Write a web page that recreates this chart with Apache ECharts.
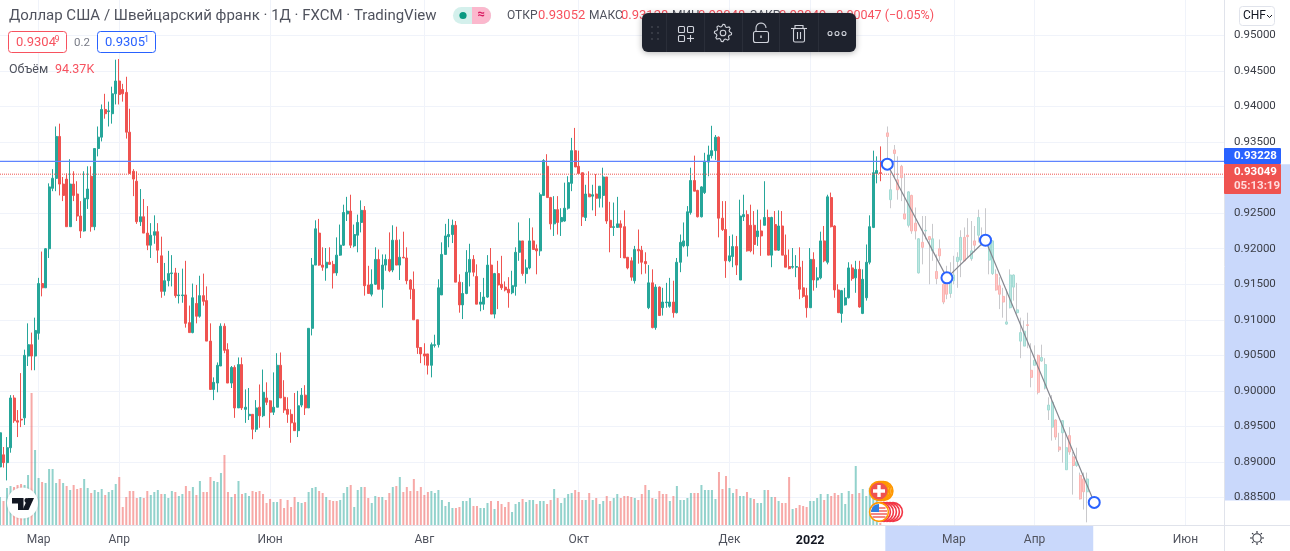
<!DOCTYPE html>
<html>
<head>
<meta charset="utf-8">
<title>USD/CHF</title>
<script src="https://cdn.jsdelivr.net/npm/echarts@6/dist/echarts.min.js"></script>
<style>
html,body{margin:0;padding:0;background:#fff}
#chart{width:1290px;height:551px}
</style>
</head>
<body>
<div id="chart"></div>
<script>
// Daily USD/CHF candles as [open, close, low, high] in pips (1 pip = 0.0001).
const liveCandles = [
[8893,8941,8889,8945],[8910,8899,8892,8921],[8899,8920,8874,8935],[8920,8990,8913,8994],[8990,8958,8955,8994],
[8958,8956,8935,8973],[8960,8959,8949,9025],[8962,9050,8952,9058],[9049,9065,9035,9095],[9065,9049,9029,9082],
[9049,9085,9029,9103],[9081,9151,9072,9159],[9151,9145,9133,9196],[9145,9200,9145,9201],[9200,9287,9187,9292],
[9285,9299,9281,9312],[9299,9358,9281,9372],[9358,9291,9275,9376],[9291,9275,9267,9301],[9298,9231,9231,9306],
[9231,9291,9231,9326],[9291,9275,9267,9309],[9277,9246,9239,9295],[9246,9225,9215,9267],[9225,9271,9224,9309],
[9270,9284,9256,9316],[9302,9231,9224,9316],[9231,9341,9226,9341],[9341,9357,9330,9372],[9357,9396,9351,9403],
[9396,9390,9383,9418],[9393,9394,9372,9407],[9390,9418,9376,9428],[9418,9436,9403,9466],[9436,9417,9403,9467],
[9424,9418,9407,9432],[9420,9364,9355,9442],[9364,9306,9306,9397],[9309,9298,9274,9312],[9295,9238,9235,9309],
[9238,9245,9232,9284],[9245,9222,9222,9270],[9222,9205,9198,9260],[9205,9219,9187,9236],[9219,9224,9207,9247],
[9224,9198,9180,9236],[9190,9140,9131,9217],[9140,9155,9134,9180],[9155,9165,9147,9197],[9165,9166,9147,9191],
[9166,9134,9131,9173],[9134,9135,9123,9166],[9134,9135,9124,9172],[9135,9095,9089,9183],[9096,9082,9082,9120],
[9082,9131,9081,9151],[9123,9105,9095,9149],[9105,9134,9103,9162],[9134,9126,9120,9165],[9127,9070,9070,9147],
[9070,9002,9002,9095],[9002,9012,8987,9019],[9011,9036,8998,9040],[9035,9091,9035,9095],[9091,9057,9053,9095],
[9058,9011,9011,9067],[9011,9033,9004,9035],[9033,8976,8962,9036],[8976,9037,8976,9047],[9037,8976,8973,9047],
[8974,8977,8955,9002],[8965,8967,8959,9004],[8967,8946,8932,8967],[8946,8976,8942,8987],[8977,8965,8948,9009],
[8965,8998,8963,9030],[8990,8984,8980,9012],[8986,8970,8948,8987],[8970,8977,8966,9026],[8977,9036,8977,9053],
[9036,8990,8990,9054],[8991,8973,8969,9015],[8974,8967,8955,8991],[8967,8955,8927,8974],[8955,8944,8944,8997],
[8944,8979,8935,9000],[8980,8994,8977,9004],[8994,8976,8966,9008],[8976,9088,8976,9088],[9088,9177,9078,9187],
[9177,9228,9177,9240],[9222,9177,9176,9242],[9177,9174,9169,9202],[9173,9181,9155,9201],[9181,9178,9178,9202],
[9178,9166,9144,9183],[9166,9191,9162,9216],[9191,9205,9190,9234],[9205,9251,9204,9262],[9249,9253,9239,9273],
[9253,9205,9201,9276],[9204,9220,9202,9234],[9219,9237,9195,9248],[9237,9254,9223,9268],[9254,9148,9134,9260],
[9149,9137,9137,9176],[9136,9150,9133,9171],[9150,9185,9149,9202],[9185,9143,9143,9199],[9143,9177,9117,9192],
[9177,9185,9169,9192],[9185,9169,9167,9223],[9170,9212,9167,9233],[9212,9177,9177,9231],[9177,9188,9156,9213],
[9188,9187,9187,9224],[9187,9155,9150,9202],[9156,9143,9129,9157],[9143,9100,9100,9168],[9100,9061,9052,9100],
[9061,9052,9039,9061],[9052,9049,9036,9067],[9052,9036,9023,9052],[9036,9065,9019,9068],[9064,9065,9061,9079],
[9065,9145,9061,9157],[9135,9192,9135,9209],[9192,9218,9192,9235],[9217,9220,9202,9242],[9220,9233,9208,9241],
[9233,9153,9153,9239],[9153,9121,9110,9164],[9121,9137,9101,9153],[9137,9167,9136,9198],[9167,9185,9147,9207],
[9185,9167,9161,9191],[9161,9122,9122,9178],[9122,9125,9112,9139],[9122,9132,9114,9159],[9132,9177,9131,9191],
[9177,9108,9108,9201],[9108,9165,9102,9166],[9165,9149,9115,9183],[9150,9145,9142,9190],[9146,9142,9140,9154],
[9143,9138,9117,9160],[9138,9148,9136,9169],[9147,9195,9134,9202],[9195,9211,9183,9237],[9211,9165,9162,9211],
[9165,9173,9151,9185],[9173,9211,9171,9243],[9211,9199,9199,9230],[9200,9197,9164,9206],[9197,9276,9190,9279],
[9275,9324,9275,9326],[9316,9272,9272,9333],[9272,9235,9227,9273],[9235,9255,9218,9274],[9255,9237,9220,9274],
[9238,9244,9218,9257],[9239,9257,9238,9293],[9257,9293,9255,9302],[9292,9338,9281,9356],[9338,9315,9315,9370],
[9316,9306,9306,9338],[9307,9245,9232,9307],[9244,9277,9239,9290],[9277,9273,9273,9309],[9274,9276,9254,9290],
[9277,9271,9246,9305],[9271,9288,9258,9288],[9275,9301,9258,9314],[9301,9239,9235,9301],[9240,9230,9195,9266],
[9230,9231,9218,9265],[9230,9235,9230,9273],[9235,9230,9187,9240],[9231,9187,9187,9254],[9188,9173,9171,9188],
[9183,9160,9155,9188],[9155,9199,9151,9204],[9199,9197,9179,9227],[9198,9181,9164,9204],[9182,9179,9165,9195],
[9117,9152,9115,9177],[9152,9089,9088,9171],[9089,9146,9086,9150],[9146,9106,9106,9147],[9117,9125,9106,9145],
[9124,9125,9117,9152],[9119,9125,9117,9159],[9125,9110,9103,9155],[9110,9181,9109,9187],[9181,9209,9167,9220],
[9204,9211,9202,9237],[9204,9252,9189,9260],[9251,9296,9248,9314],[9296,9281,9281,9331],[9282,9245,9244,9283],
[9245,9287,9244,9288],[9279,9323,9277,9335],[9322,9332,9302,9345],[9331,9338,9327,9373],[9338,9357,9325,9360],
[9357,9243,9216,9358],[9243,9227,9225,9267],[9227,9183,9159,9267],[9183,9190,9181,9218],[9189,9203,9174,9220],
[9203,9177,9163,9218],[9156,9246,9156,9269],[9245,9248,9239,9276],[9248,9197,9196,9254],[9233,9197,9195,9262],
[9233,9206,9192,9253],[9217,9225,9204,9255],[9225,9218,9190,9241],[9233,9244,9233,9295],[9244,9191,9191,9255],
[9191,9244,9174,9245],[9234,9198,9198,9253],[9198,9232,9197,9254],[9232,9191,9191,9253],[9191,9174,9174,9220],
[9175,9172,9171,9199],[9174,9175,9172,9201],[9174,9175,9160,9191],[9174,9143,9129,9202],[9145,9133,9131,9183],
[9134,9117,9103,9145],[9117,9185,9117,9201],[9185,9156,9141,9195],[9156,9159,9145,9174],[9159,9211,9157,9224],
[9211,9183,9181,9232],[9181,9273,9178,9276],[9272,9231,9230,9279],[9232,9142,9131,9233],[9142,9110,9110,9150],
[9109,9141,9096,9142],[9121,9131,9120,9145],[9131,9173,9130,9181],[9173,9158,9155,9178],[9159,9171,9138,9183],
[9171,9118,9117,9183],[9109,9157,9108,9171],[9131,9181,9127,9206],[9181,9231,9178,9247],[9230,9307,9229,9338],
[9306,9310,9292,9330],[9307,9306,9295,9344]
];
// The copied bar pattern laid out ahead of the last candle, same layout as above.
const projectedStart = 253;
const projectedCandles = [
[9363,9358,9318,9372],[9269,9283,9257,9309],[9339,9334,9300,9346],[9297,9283,9269,9330],[9316,9300,9267,9318],
[9249,9242,9241,9304],[9233,9280,9230,9281],[9275,9225,9221,9276],[9236,9225,9213,9258],[9166,9214,9165,9215],
[9209,9202,9178,9246],[9225,9226,9213,9246],[9217,9213,9150,9218],[9197,9214,9183,9235],[9168,9158,9150,9192],
[9200,9190,9183,9213],[9150,9125,9122,9157],[9164,9136,9129,9176],[9137,9162,9131,9181],[9155,9163,9150,9190],
[9182,9188,9145,9195],[9184,9216,9160,9226],[9216,9183,9183,9230],[9219,9217,9188,9243],[9186,9197,9183,9239],
[9211,9205,9195,9232],[9219,9244,9209,9255],[9206,9213,9204,9230],[9220,9215,9210,9257],[9184,9206,9164,9211],
[9165,9211,9163,9212],[9164,9142,9141,9171],[9148,9136,9115,9160],[9133,9125,9103,9145],[9094,9097,9093,9143],
[9117,9163,9116,9171],[9146,9163,9127,9164],[9110,9114,9108,9152],[9070,9082,9046,9103],[9063,9084,9063,9099],
[9093,9092,9060,9110],[9029,9019,9005,9067],[9036,9043,9036,9064],[9050,8998,8995,9051],[9042,9047,9041,9065],
[9004,9037,9002,9046],[8973,8980,8959,8991],[8949,8984,8930,8994],[8959,8935,8931,8960],[8921,8917,8914,8941],
[8941,8958,8899,8959],[8889,8920,8889,8941],[8937,8914,8910,8949],[8907,8895,8854,8914],[8895,8900,8893,8920],
[8881,8848,8847,8885],[8876,8858,8833,8885],[8858,8876,8815,8885]
];
// Daily volume in thousands, and whether each bar is drawn as an up (G) or down (R) day.
const volumes = [
84,72,111,117,114,120,123,120,150,396,225,141,129,126,168,168,126,138,126,117,105,120,108,111,138,111,96,105,99,108,90,99,105,123,144,
54,84,102,102,81,84,81,102,90,99,105,93,93,81,102,99,87,93,117,102,114,90,132,99,99,144,132,129,156,210,
99,84,93,132,93,96,87,102,99,102,93,66,78,69,69,78,51,75,54,84,69,66,69,99,111,114,102,96,84,75,
72,72,75,96,114,120,54,105,114,114,81,66,87,84,84,75,96,114,117,144,99,114,102,138,102,114,90,99,102,96,105,75,57,69,
51,51,54,72,72,81,57,57,51,51,66,72,48,72,63,54,69,39,63,69,78,69,75,75,63,72,72,63,75,108,
81,66,81,93,96,105,99,75,75,96,75,81,63,72,87,72,81,93,81,87,87,84,81,75,93,120,105,81,78,102,
93,93,72,87,117,75,75,81,96,96,96,120,105,105,105,78,159,108,147,111,96,108,87,87,99,81,78,66,66,105,
105,84,84,72,66,66,144,48,51,60,57,54,72,72,81,93,75,93,87,96,90,96,63,102,93,177,96,108,87,111,87,75,6
];
const volumeSides =
"GRGGRRRGGRGGRGGGGRGRGRRRGGRGGGRGGGR" +
"RRRRRGRRGGGRGGGRGGRRGRGRRRGGGRRGRGRGGRRRRRRGGRRRRRGGRGGGRRGRRRGGGRGGGRRGGRGRRGRGRRRRRRRRGGGGGG" +
"GRRGGGRRGGGRGRRRRGGGRGGGRGGRRGRGGGGRRRGRGRGGRRGGRRRRGRRRGRGRRRGRGGGGGRRGGGGGRRRGGRGGRGRGGGRGRGRRRGRRRRGGGGRGRRRGGGRGRGGGGGR";

const categoryCount = 350;
const monthTicks = {11:'Мар',34:'Апр',77:'Июн',121:'Авг',165:'Окт',208:'Дек',231:'2022',272:'Мар',295:'Апр',338:'Июн'};
const categories = Array.from({length:categoryCount},(_, i)=>monthTicks[i]||'');

// Three-segment price path: index along the time axis, price.
const pathPoints = [[253,0.9319],[270,0.9159],[281,0.9212],[312,0.8843]];
const levelLine = 0.93228;
const lastPrice = 0.93049;

const UP='#26a69a', DOWN='#ef5350';
const pale={up:'#bfe6e1',upLine:'#a3dcd5',down:'#fcc9c8',downLine:'#fbb4b2'};
const GREY='#50535e';

const toPrice = p => +(p/10000).toFixed(5);
const liveData = liveCandles.map((c,i)=>[i,toPrice(c[0]),toPrice(c[1]),toPrice(c[2]),toPrice(c[3])]);
const projWick = projectedCandles.map((c,i)=>[projectedStart+i,toPrice(c[0]),toPrice(c[1]),toPrice(c[2]),toPrice(c[3])]);
const projBody = projectedCandles.map((c,i)=>[projectedStart+i,toPrice(c[0]),toPrice(c[1]),toPrice(Math.min(c[0],c[1])),toPrice(Math.max(c[0],c[1]))]);
const volumeData = volumes.map((v,i)=>({value:[i,v],itemStyle:{color:volumeSides[i]==='G'?'rgba(38,166,154,.5)':'rgba(239,83,80,.5)'}}));
const fullWidth = v => [[0,v],[categoryCount-1,v]];

const AXIS_LINE='#e0e3eb', GRID_LINE='#f0f3fa';
const isTick = i => monthTicks[i]!==undefined;

// --- overlay helpers -------------------------------------------------------
const txt=(x,y,text,fill,font,extra,z)=>({type:'text',z:z||100,silent:true,style:Object.assign({x,y,text,fill,font,textVerticalAlign:'middle'},extra||{})});
const rr=(x,y,w,h,r,style,z)=>({type:'rect',z:z||100,silent:true,shape:{x,y,width:w,height:h,r},style});
const dot=(cx,cy,r,style,z)=>({type:'circle',z:z||100,silent:true,shape:{cx,cy,r},style});
const poly=(points,style,z)=>({type:'polygon',z:z||102,silent:true,shape:{points},style});
const pline=(points,style,z)=>({type:'polyline',z:z||102,silent:true,shape:{points},style});
const ln=(x1,y1,x2,y2,stroke,w,z)=>({type:'line',z:z||100,silent:true,shape:{x1,y1,x2,y2},style:{stroke,lineWidth:w||1}});
// Points along a circular arc, angles in degrees.
const arcPts=(cx,cy,r,from,to,n)=>Array.from({length:n+1},(_, k)=>{
  const a=(from+(to-from)*k/n)*Math.PI/180;
  return [cx+r*Math.cos(a),cy+r*Math.sin(a)];
});

const UI='13px Roboto', CAP='12px Roboto', SMALL='12.5px Roboto';
const overlay=[];

// header line
overlay.push(txt(9,16,'Доллар США / Швейцарский франк · 1Д · FXCM · TradingView','#50535e','15px Roboto'));
overlay.push(rr(453,7,38,17,8.5,{fill:'#d4f0ec'}));
overlay.push(poly([[472,7],...arcPts(482.5,15.5,8.5,-90,90,12),[472,24]],{fill:'#fbb8cd'},101));
overlay.push(dot(463,15.5,3.6,{fill:'#089981'},102));
overlay.push(txt(481,15,'≈','#d81b60','bold 13px Roboto',{textAlign:'center'},103));
overlay.push(txt(507,16,'ОТКР',GREY,CAP));
overlay.push(txt(538,16,'0.93052','#f7525f',UI));
overlay.push(txt(589,16,'МАКС',GREY,CAP));
overlay.push(txt(621,16,'0.93128','#f7525f',UI));
overlay.push(txt(672,16,'МИН',GREY,CAP));
overlay.push(txt(698,16,'0.93048','#f7525f',UI));
overlay.push(txt(750,16,'ЗАКР',GREY,CAP));
overlay.push(txt(779,16,'0.93049','#f7525f',UI));
overlay.push(txt(829,16,'−0.00047 (−0.05%)','#f7525f',SMALL));

// bid / ask boxes and the volume caption
overlay.push(rr(8.5,31.5,58,21,3,{fill:'#fff',stroke:'#f7525f',lineWidth:1}));
overlay.push(txt(16,43,'0.9304','#f7525f',UI,null,101));
overlay.push(txt(54.5,40,'9','#f7525f','9px Roboto',null,101));
overlay.push(txt(74,43,'0.2','#787b86','11.5px Roboto'));
overlay.push(rr(97.5,31.5,58,21,3,{fill:'#fff',stroke:'#2962ff',lineWidth:1}));
overlay.push(txt(105,43,'0.9305','#2962ff',UI,null,101));
overlay.push(txt(144,40,'1','#2962ff','9px Roboto',null,101));
overlay.push(txt(9,70,'Объём',GREY,SMALL));
overlay.push(txt(55,70,'94.37K','#f7525f',SMALL));

// floating drawing toolbar
overlay.push({type:'rect',z:110,silent:true,shape:{x:642,y:13,width:214,height:39,r:6},style:{fill:'#1e222d',shadowBlur:6,shadowColor:'rgba(0,0,0,.3)',shadowOffsetY:1}});
[666,704,742,779,818].forEach(x=>overlay.push(ln(x+.5,13,x+.5,52,'#2a2e39',1,111)));
[651,657].forEach(x=>[27,33,39].forEach(y=>overlay.push(dot(x+1,y,.9,{fill:'#434651'},112))));
const ICON={stroke:'#d1d4dc',lineWidth:1.1,fill:'none'};
[[678.5,26.5],[687.5,26.5],[678.5,35.5]].forEach(p=>overlay.push(rr(p[0],p[1],6,6,1,ICON,112)));
overlay.push(ln(687,38.5,694,38.5,'#d1d4dc',1.1,112));
overlay.push(ln(690.5,35,690.5,42,'#d1d4dc',1.1,112));
// gear outline built from eight teeth around its hub
(function(){
  const cx=723,cy=33,n=8,pts=[];
  for(let k=0;k<n*4;k++){
    const a=k*Math.PI*2/(n*4);
    const r=(k%4===0||k%4===1)?8.6:6.6;
    pts.push([cx+r*Math.cos(a),cy+r*Math.sin(a)]);
  }
  overlay.push(poly(pts,ICON,112));
  overlay.push(dot(cx,cy,2.8,ICON,112));
})();
overlay.push(rr(753.5,31.5,15,11,2,ICON,112));
overlay.push(pline([[756,31],...arcPts(761,28,5,180,360,10)],ICON,112));
overlay.push(ln(761,35.5,761,38,'#d1d4dc',1.4,112));
overlay.push(ln(791,28.5,807,28.5,'#d1d4dc',1.1,112));
overlay.push(pline([[795,28],[795,25.5],[803,25.5],[803,28]],ICON,112));
overlay.push(rr(793.5,28.5,11,13.5,1.5,ICON,112));
overlay.push(ln(797.5,32,797.5,39,'#d1d4dc',1.1,112));
overlay.push(ln(800.5,32,800.5,39,'#d1d4dc',1.1,112));
[830,837,844].forEach(x=>overlay.push(dot(x,33.5,2,ICON,112)));

// currency switch, price tags and clock
overlay.push(rr(1239.5,6.5,35,19,3,{fill:'#fff',stroke:'#e0e3eb',lineWidth:1},105));
overlay.push(txt(1243,16,'CHF','#131722','12px Roboto',null,106));
overlay.push(pline([[1267,15],[1269.5,17.5],[1272,15]],{stroke:'#131722',lineWidth:1,fill:'none'},106));
overlay.push(rr(1224,148,57,16,1,{fill:'#2962ff'},105));
overlay.push(txt(1234,156.5,'0.93228','#fff','bold 11.5px Roboto',null,106));
overlay.push(rr(1224,164,57,30,1,{fill:'#ef5350'},105));
overlay.push(txt(1234,172.5,'0.93049','#fff','bold 11.5px Roboto',null,106));
overlay.push(txt(1234,186,'05:13:19','#ffdcdc','bold 11.5px Roboto',null,106));

// axis frame pieces below the price grid, and the settings glyph
overlay.push(ln(1224.5,525,1224.5,551,AXIS_LINE,1,50));
overlay.push(ln(1224,525.5,1290,525.5,AXIS_LINE,1,50));
overlay.push(dot(1257,538,4.2,{stroke:'#2a2e39',lineWidth:1.1,fill:'none'},60));
[0,45,90,135,180,225,270,315].forEach(a=>{
  const r=a*Math.PI/180;
  overlay.push(ln(1257+5*Math.cos(r),538+5*Math.sin(r),1257+7*Math.cos(r),538+7*Math.sin(r),'#2a2e39',1.1,60));
});

// corner logo
overlay.push(dot(22.5,503,15.5,{fill:'#fff',shadowBlur:3,shadowColor:'rgba(0,0,0,.15)'},90));
overlay.push(poly([[12,498],[23.5,498],[23.5,510],[18,510],[18,503.5],[12,503.5]],{fill:'#131722'},91));
overlay.push(dot(26.8,500.5,2.4,{fill:'#131722'},91));
overlay.push(poly([[28,498],[34,498],[28.5,510],[22.5,510]],{fill:'#131722'},91));

// event markers stacked on the time axis
[4.5,3,1.5,0].forEach(o=>{
  overlay.push(dot(879+o,491,9.4,{fill:o?'#fff':'#ef5350',stroke:'#ff9800',lineWidth:1.6},80));
});
overlay.push(poly([[877.3,485],[880.7,485],[880.7,489.3],[885,489.3],[885,492.7],[880.7,492.7],[880.7,497],[877.3,497],[877.3,492.7],[873,492.7],[873,489.3],[877.3,489.3]],{fill:'#fff'},81));
[14,11,8,5,2].forEach(o=>{
  overlay.push(dot(879+o,512,9.4,{fill:'#fff',stroke:'#f23645',lineWidth:1.6},80));
});
overlay.push(dot(879,512,9.4,{fill:'#fff',stroke:'#ff9800',lineWidth:1.6},81));
[[508,6.5],[511,8],[514,8],[517,6.5]].forEach(s=>overlay.push(ln(879-s[1],s[0],879+s[1],s[0],'#ef5350',1.4,82)));
overlay.push(poly([[879,512],[871,512],...arcPts(879,512,8,180,270,8)],{fill:'#2f7fe0'},83));

const chart=echarts.init(document.getElementById('chart'),null,{renderer:'canvas'});
chart.setOption({
  animation:false,
  backgroundColor:'#fff',
  textStyle:{fontFamily:'Roboto'},
  grid:[
    {left:0,width:1224,top:-2.7,height:535.7,containLabel:false},
    {left:0,width:1224,top:0,height:525,containLabel:false}
  ],
  xAxis:[
    {type:'category',gridIndex:0,data:categories,boundaryGap:false,show:false},
    {type:'category',gridIndex:1,data:categories,boundaryGap:false,
     axisLine:{lineStyle:{color:AXIS_LINE}},axisTick:{show:false},
     splitLine:{show:true,interval:i=>isTick(i),lineStyle:{color:GRID_LINE}},
     axisLabel:{interval:i=>isTick(i),color:GREY,fontSize:12,margin:9,fontFamily:'Roboto',
       formatter:v=>v==='2022'?'{year|2022}':v,
       rich:{year:{fontWeight:'bold',color:'#131722',fontSize:12.5,fontFamily:'Roboto'}}}}
  ],
  yAxis:[
    {type:'value',gridIndex:0,position:'right',min:0.88,max:0.955,interval:0.005,
     axisLine:{show:true,lineStyle:{color:AXIS_LINE}},axisTick:{show:false},
     splitLine:{show:true,showMinLine:false,showMaxLine:false,lineStyle:{color:GRID_LINE}},
     axisLabel:{showMinLabel:false,showMaxLabel:false,color:'#3a3d46',fontSize:11.5,margin:10,fontFamily:'Roboto',
       formatter:v=>v.toFixed(5)}},
    {type:'value',gridIndex:1,min:0,max:1575,show:false}
  ],
  series:[
    {type:'custom',name:'axisHighlights',xAxisIndex:0,yAxisIndex:0,z:-1,silent:true,clip:false,
     coordinateSystem:'cartesian2d',
     encode:{x:0,y:1},
     data:[[pathPoints[0][0],pathPoints[0][1],pathPoints[3][0],pathPoints[3][1]]],
     renderItem:(params,api)=>{
       const a=api.coord([api.value(0),api.value(1)]), b=api.coord([api.value(2),api.value(3)]);
       const fill='#c9d8fb';
       return {type:'group',children:[
         {type:'rect',shape:{x:1225,y:a[1],width:65,height:b[1]-a[1]-2},style:{fill}},
         {type:'rect',shape:{x:a[0]-2,y:526,width:b[0]-a[0]+1,height:25},style:{fill}}
       ]};
     }},
    {type:'bar',name:'Объём',xAxisIndex:1,yAxisIndex:1,barWidth:2,data:volumeData,z:1,silent:true},
    {type:'candlestick',name:'USDCHF',xAxisIndex:0,yAxisIndex:0,barWidth:2.5,z:3,silent:true,
     encode:{x:0,y:[1,2,3,4]},data:liveData,
     itemStyle:{color:UP,color0:DOWN,borderColor:UP,borderColor0:DOWN,borderWidth:1}},
    {type:'candlestick',name:'projectionWicks',xAxisIndex:0,yAxisIndex:0,barWidth:1,z:4,silent:true,
     encode:{x:0,y:[1,2,3,4]},data:projWick,
     itemStyle:{color:'#c9c9cc',color0:'#c9c9cc',borderColor:'#c9c9cc',borderColor0:'#c9c9cc',borderWidth:1}},
    {type:'candlestick',name:'projectionBodies',xAxisIndex:0,yAxisIndex:0,barWidth:2.5,z:5,silent:true,
     encode:{x:0,y:[1,2,3,4]},data:projBody,
     itemStyle:{color:pale.up,color0:pale.down,borderColor:pale.upLine,borderColor0:pale.downLine,borderWidth:1}},
    {type:'line',name:'lastPrice',xAxisIndex:0,yAxisIndex:0,z:5,silent:true,data:fullWidth(lastPrice),
     showSymbol:false,lineStyle:{color:'#ef5350',width:1,type:'dotted'}},
    {type:'line',name:'levelLine',xAxisIndex:0,yAxisIndex:0,z:5,silent:true,data:fullWidth(levelLine),
     showSymbol:false,lineStyle:{color:'#5f84ff',width:1.3}},
    {type:'line',name:'pricePath',xAxisIndex:0,yAxisIndex:0,z:6,silent:true,clip:false,
     data:pathPoints,symbol:'circle',symbolSize:11,showSymbol:true,showAllSymbol:true,
     lineStyle:{color:'#85878f',width:1.2},
     itemStyle:{color:'#fff',borderColor:'#2962ff',borderWidth:2}}
  ],
  graphic:{elements:overlay}
});
</script>
</body>
</html>
